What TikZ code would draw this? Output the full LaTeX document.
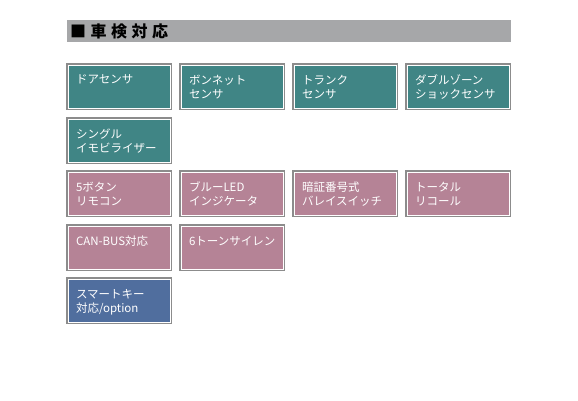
\documentclass[tikz,border=0pt]{standalone}
\usepackage{fontspec}
\setmainfont{Noto Sans CJK JP}
\newfontfamily\hdfont[LetterSpace=28]{Noto Sans CJK JP}
\definecolor{teal}{RGB}{64,133,133}
\definecolor{pinkc}{RGB}{181,131,150}
\definecolor{bluec}{RGB}{80,110,158}
\definecolor{hdrgray}{RGB}{166,167,169}
\definecolor{edgegray}{RGB}{140,140,140}
\newcommand\bxt[1]{\parbox[c][28pt][t]{86pt}{\raggedright\fontsize{11.5pt}{14pt}\selectfont\vspace*{2.5pt}#1}}
\tikzset{
  hdr/.style={anchor=north west, fill=hdrgray, minimum width=444pt, minimum height=22pt,
    text width=438pt, align=left, inner xsep=3pt, inner ysep=0pt, font=\hdfont\bfseries\fontsize{16pt}{16pt}\selectfont},
  bbox/.style={anchor=north west, draw=white, line width=1pt,
    preaction={draw=edgegray, line width=4pt},
    inner xsep=8pt, inner ysep=7.5pt, text=white, outer sep=0pt},
}
\begin{document}
\begin{tikzpicture}[x=1pt,y=-1pt]
\useasboundingbox (0,0) rectangle (578,400);
\fill[white] (0,0) rectangle (578,400);
\node[hdr] (hdr) at (67,20) {■車検対応};
% row 1
\node[bbox,fill=teal] (door) at (68,65) {\bxt{ドアセンサ}};
\node[bbox,fill=teal] (bonnet) at (181,65) {\bxt{ボンネット\\センサ}};
\node[bbox,fill=teal] (trunk) at (294,65) {\bxt{トランク\\センサ}};
\node[bbox,fill=teal] (shock) at (407,65) {\bxt{ダブルゾーン\\ショックセンサ}};
% row 2
\node[bbox,fill=teal] (immo) at (68,119) {\bxt{シングル\\イモビライザー}};
% row 3
\node[bbox,fill=pinkc] (remote) at (68,172) {\bxt{5ボタン\\リモコン}};
\node[bbox,fill=pinkc] (led) at (181,172) {\bxt{ブルーLED\\インジケータ}};
\node[bbox,fill=pinkc] (pin) at (294,172) {\bxt{暗証番号式\\バレイスイッチ}};
\node[bbox,fill=pinkc] (recall) at (407,172) {\bxt{トータル\\リコール}};
% row 4
\node[bbox,fill=pinkc] (canbus) at (68,226) {\bxt{CAN-BUS対応}};
\node[bbox,fill=pinkc] (siren) at (181,226) {\bxt{6トーンサイレン}};
% row 5
\node[bbox,fill=bluec] (smart) at (68,279) {\bxt{スマートキー\\対応/option}};
\end{tikzpicture}
\end{document}
